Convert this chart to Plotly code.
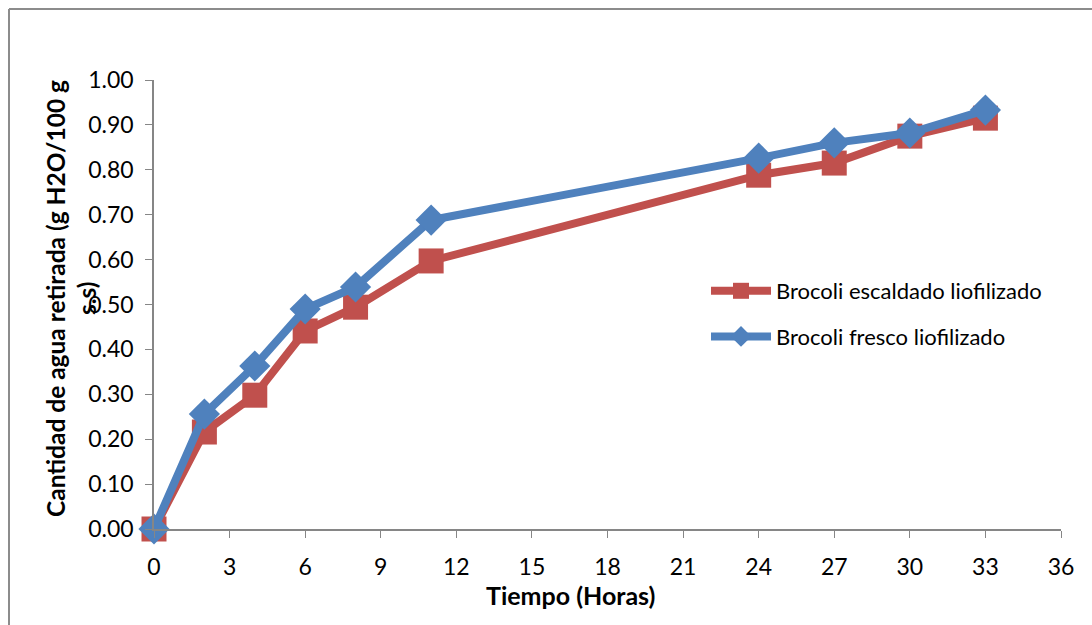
import plotly.graph_objects as go

tiempo = [0, 2, 4, 6, 8, 11, 24, 27, 30, 33]
escaldado = [0.00, 0.216, 0.298, 0.441, 0.494, 0.597, 0.788, 0.815, 0.875, 0.915]
fresco = [0.00, 0.256, 0.363, 0.490, 0.539, 0.688, 0.826, 0.860, 0.882, 0.933]

series_names = ["Brocoli escaldado liofilizado", "Brocoli fresco liofilizado"]
red = "#C0504D"
blue = "#4F81BD"
font_family = "Lato, 'Open Sans', sans-serif"

fig = go.Figure()
fig.add_trace(go.Scatter(
    x=tiempo, y=escaldado, name=series_names[0], mode="lines+markers",
    legendgroup="a",
    line=dict(color=red, width=8),
    marker=dict(symbol="square", size=25, color=red),
    cliponaxis=False,
))
fig.add_trace(go.Scatter(
    x=tiempo, y=fresco, name=series_names[1], mode="lines+markers",
    legendgroup="b",
    line=dict(color=blue, width=8),
    marker=dict(symbol="diamond", size=24, color=blue),
    cliponaxis=False,
))

axis_color = "#868686"
fig.update_layout(
    width=1092, height=625,
    margin=dict(l=154, r=31, t=80, b=96),
    paper_bgcolor="white", plot_bgcolor="white",
    font=dict(family=font_family, size=23, color="black"),
    showlegend=True,
    legend=dict(x=(706 - 154) / 907, y=(529 - 314) / 449, xanchor="left", yanchor="middle",
                font=dict(size=22, color="black"), traceorder="grouped",
                bgcolor="rgba(0,0,0,0)", itemwidth=60, tracegroupgap=14),
    xaxis=dict(range=[0, 36], dtick=3, tick0=0, showgrid=False, zeroline=False,
               showline=True, linecolor=axis_color, linewidth=1.5,
               ticks="outside", ticklen=7, tickcolor=axis_color,
               ticklabelstandoff=10,
               tickfont=dict(size=23)),
    yaxis=dict(range=[0, 1.0], dtick=0.1, tickformat=".2f", showgrid=False, zeroline=False,
               showline=True, linecolor=axis_color, linewidth=1.5,
               ticks="outside", ticklen=7, tickcolor=axis_color,
               ticklabelstandoff=7,
               tickfont=dict(size=23)),
)

fig.add_annotation(text="<b>Tiempo (Horas)</b>", xref="paper", yref="paper",
                   x=(570 - 154) / 907, y=-(595 - 529) / 449, showarrow=False,
                   xanchor="center", yanchor="middle", font=dict(size=25))
fig.add_annotation(text="<b>Cantidad de agua retirada (g H2O/100 g</b>", xref="paper", yref="paper",
                   x=-(154 - 55) / 907, y=(529 - 299) / 449, showarrow=False, textangle=-90,
                   xanchor="center", yanchor="middle", font=dict(size=24.5))
fig.add_annotation(text="<b>s.s)</b>", xref="paper", yref="paper",
                   x=-(154 - 86) / 907, y=(529 - 298) / 449, showarrow=False, textangle=-90,
                   xanchor="center", yanchor="middle", font=dict(size=24.5))

# outer chart frame (top and left edges)
fig.add_shape(type="line", xref="paper", yref="paper",
              x0=-(154 - 9) / 907, x1=(1092 - 154) / 907, y0=(529 - 9) / 449, y1=(529 - 9) / 449,
              line=dict(color="#8c8c8c", width=2))
fig.add_shape(type="line", xref="paper", yref="paper",
              x0=-(154 - 9) / 907, x1=-(154 - 9) / 907, y0=(529 - 9) / 449, y1=-(625 - 529) / 449,
              line=dict(color="#8c8c8c", width=2))

fig.write_html("out.html")
